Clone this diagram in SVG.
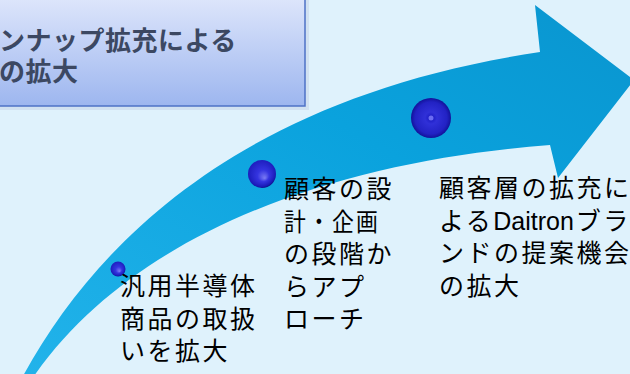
<svg xmlns="http://www.w3.org/2000/svg" width="630" height="374" viewBox="0 0 630 374">
<defs>
<style>
.lbl{font-family:"Noto Sans CJK JP","Noto Sans",sans-serif;font-size:25px;letter-spacing:2.5px;fill:#000}
.lat{font-family:"Liberation Sans",Arial,sans-serif;letter-spacing:0}
.ttl{font-family:"Noto Sans CJK JP","Noto Sans",sans-serif;font-size:26px;letter-spacing:0.5px;font-weight:bold;fill:#3C4862}
</style>
<linearGradient id="boxg" x1="0" y1="0" x2="0" y2="1">
<stop offset="0" stop-color="#E2E9FC"/>
<stop offset="1" stop-color="#9DB6EF"/>
</linearGradient>
<linearGradient id="arrg" x1="0" y1="1" x2="1" y2="0">
<stop offset="0" stop-color="#22B3EA"/>
<stop offset="0.6" stop-color="#0AA2DD"/>
<stop offset="1" stop-color="#0A95CF"/>
</linearGradient>
<radialGradient id="ball" cx="0.45" cy="0.4" r="0.6" fx="0.6" fy="0.65">
<stop offset="0" stop-color="#7C7CF4"/>
<stop offset="0.35" stop-color="#3434E0"/>
<stop offset="0.85" stop-color="#1A1AB8"/>
<stop offset="1" stop-color="#10108C"/>
</radialGradient>
<radialGradient id="ball3" cx="0.5" cy="0.5" r="0.5">
<stop offset="0" stop-color="#5A5AF0"/>
<stop offset="0.12" stop-color="#2020C8"/>
<stop offset="0.3" stop-color="#3030D8"/>
<stop offset="0.8" stop-color="#2222C4"/>
<stop offset="1" stop-color="#12129A"/>
</radialGradient>
</defs>
<rect x="0" y="0" width="630" height="374" fill="#DFF2FC"/>
<g id="title-box">
<rect x="-8" y="-8" width="317" height="118" fill="#C8D6EA" opacity="0.6"/>
<rect x="-10" y="-10" width="315" height="116" fill="url(#boxg)" stroke="#4E72C6" stroke-width="1.5"/>
<text class="ttl"><tspan x="-1" y="50">ンナップ拡充による</tspan><tspan x="-1" y="81">の拡大</tspan></text>
</g>
<g id="connectors">
<path d="M23,376 C100,235 250,95 540,52 L535,5 L634,80 L558,178 L550,145 C350,160 140,225 34,376 Z" fill="url(#arrg)"/>
</g>
<g id="step1">
<circle cx="118" cy="269" r="7.5" fill="url(#ball)"/>
<text class="lbl"><tspan x="120" y="295">汎用半導体</tspan><tspan x="120" y="327.5">商品の取扱</tspan><tspan x="120" y="360">いを拡大</tspan></text>
</g>
<g id="step2">
<circle cx="262" cy="174" r="14" fill="url(#ball)"/>
<text class="lbl"><tspan x="284" y="198">顧客の設</tspan><tspan x="284" y="230.5" textLength="96" lengthAdjust="spacingAndGlyphs">計・企画</tspan><tspan x="284" y="263">の段階か</tspan><tspan x="284" y="295.5">らアプ</tspan><tspan x="284" y="328">ローチ</tspan></text>
</g>
<g id="step3">
<circle cx="431" cy="118" r="20" fill="url(#ball3)"/>
<circle cx="431" cy="118" r="2.5" fill="#6C6CF2"/>
<text class="lbl"><tspan x="439" y="197">顧客層の拡充に</tspan><tspan x="439" y="229.5">よる</tspan><tspan class="lat">Daitron</tspan><tspan dx="2">ブラ</tspan><tspan x="439" y="262">ンドの提案機会</tspan><tspan x="439" y="294.5">の拡大</tspan></text>
</g>
</svg>
